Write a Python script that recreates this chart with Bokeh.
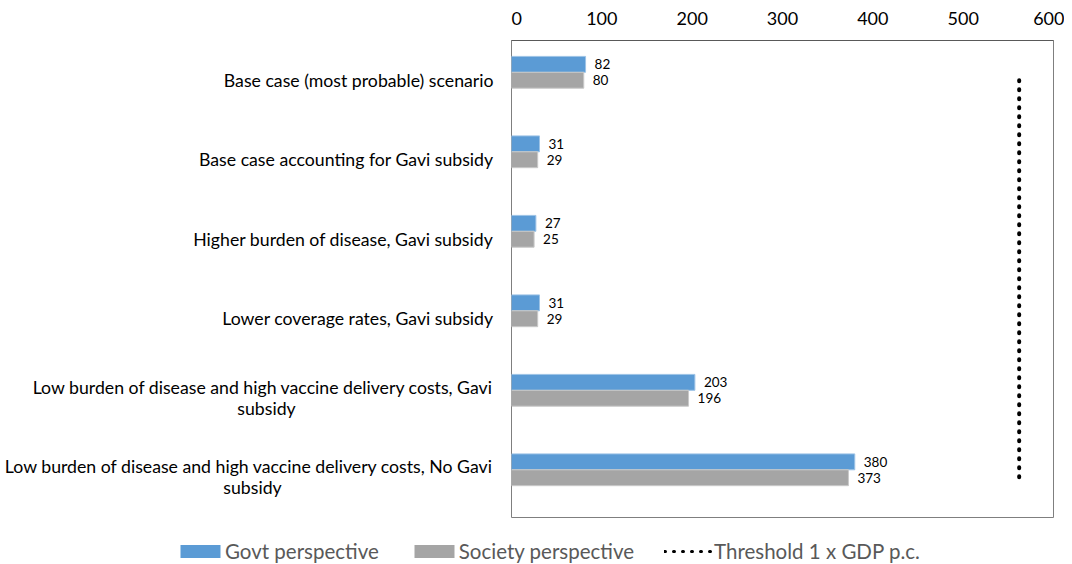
from bokeh.plotting import figure
from bokeh.layouts import row, column
from bokeh.models import (ColumnDataSource, FactorRange, Range1d, Legend,
                          LegendItem, FixedTicker)
from bokeh.transform import dodge
from bokeh.core.properties import value
from bokeh.embed import file_html
from bokeh.resources import INLINE

categories = [
    "Base case (most probable) scenario",
    "Base case accounting for Gavi subsidy",
    "Higher burden of disease, Gavi subsidy",
    "Lower coverage rates, Gavi subsidy",
    "Low burden of disease and high vaccine delivery costs, Gavi\nsubsidy",
    "Low burden of disease and high vaccine delivery costs, No Gavi\nsubsidy",
]
govt = [82, 31, 27, 31, 203, 380]
society = [80, 29, 25, 29, 196, 373]
threshold = [562, 562, 562, 562, 562, 562]
x_ticks = [0, 100, 200, 300, 400, 500, 600]

FONT = "Lato"
BLUE = "#5B9BD5"
GRAY = "#A5A5A5"

# layout constants (pixels)
W_LABEL = 511
W_MAIN = 553
H_MAIN = 524
H_LEG = 40
TOP = 40
BOTTOM = 7
LABEL_RIGHT = 493
SECOND_LINE_CENTER = {4: 266, 5: 252}

src = ColumnDataSource(dict(
    cat=categories, govt=govt, society=society, threshold=threshold,
    govt_lbl=[str(v) for v in govt], society_lbl=[str(v) for v in society],
))

yr = FactorRange(factors=categories[::-1])

# ---------------- main plot ----------------
p = figure(width=W_MAIN, height=H_MAIN, output_backend="svg", toolbar_location=None,
           x_range=Range1d(0, 600), y_range=yr, x_axis_location="above",
           y_axis_location=None,
           min_border_left=0, min_border_right=11, min_border_top=TOP,
           min_border_bottom=BOTTOM)
p.grid.visible = False
p.outline_line_color = "#7F7F7F"
p.outline_line_width = 1

r_govt = p.hbar(y=dodge("cat", 0.2, range=yr), right="govt", left=0, height=0.2,
                source=src, fill_color=BLUE, line_color="#9DC3E6", line_width=1)
r_soc = p.hbar(y=dodge("cat", 0.0, range=yr), right="society", left=0, height=0.2,
               source=src, fill_color=GRAY, line_color="#C9C9C9", line_width=1)

p.text(x="govt", y=dodge("cat", 0.2, range=yr), text="govt_lbl", source=src,
       x_offset=9, text_baseline="middle", text_align="left",
       text_font=value(FONT), text_font_size="13.5px", text_color="black")
p.text(x="society", y=dodge("cat", 0.0, range=yr), text="society_lbl", source=src,
       x_offset=9, text_baseline="middle", text_align="left",
       text_font=value(FONT), text_font_size="13.5px", text_color="black")

r_thr = p.line(x="threshold", y="cat", source=src, line_color="black", line_width=4,
               line_dash="1 8", line_cap="round")

xa = p.xaxis[0]
xa.ticker = FixedTicker(ticks=x_ticks)
xa.axis_line_color = "#595959"
xa.major_tick_out = 0
xa.major_tick_in = 0
xa.minor_tick_out = 0
xa.minor_tick_in = 0
xa.major_label_standoff = 16
xa.major_label_text_font = FONT
xa.major_label_text_font_size = "18px"
xa.major_label_text_color = "black"

# ---------------- category labels ----------------
line1, line2, line2_x = [], [], []
for i, c in enumerate(categories):
    parts = c.split("\n")
    line1.append(parts[0])
    line2.append(parts[1] if len(parts) > 1 else "")
    line2_x.append(SECOND_LINE_CENTER.get(i, LABEL_RIGHT))
one = [len(c.split("\n")) == 1 for c in categories]

lab_src1 = ColumnDataSource(dict(
    cat=[c for c, o in zip(categories, one) if o],
    txt=[t for t, o in zip(line1, one) if o],
    xr=[LABEL_RIGHT for o in one if o]))
lab_src2 = ColumnDataSource(dict(
    cat=[c for c, o in zip(categories, one) if not o],
    txt1=[t for t, o in zip(line1, one) if not o],
    txt2=[t for t, o in zip(line2, one) if not o],
    x2=[x for x, o in zip(line2_x, one) if not o],
    xr=[LABEL_RIGHT for o in one if not o]))

lf = figure(width=W_LABEL, height=H_MAIN, output_backend="svg", toolbar_location=None,
            x_range=Range1d(0, W_LABEL), y_range=yr, x_axis_location=None,
            y_axis_location=None,
            min_border_left=0, min_border_right=0, min_border_top=TOP,
            min_border_bottom=BOTTOM)
lf.grid.visible = False
lf.outline_line_color = None

common = dict(text_font=value(FONT), text_font_size="17.7px", text_color="black",
              text_baseline="middle")
lf.text(x="xr", y="cat", text="txt", source=lab_src1, text_align="right", **common)
lf.text(x="xr", y="cat", text="txt1", source=lab_src2, text_align="right", y_offset=-11, **common)
lf.text(x="x2", y="cat", text="txt2", source=lab_src2, text_align="center", y_offset=10, **common)

# ---------------- legend ----------------
lg = figure(width=W_LABEL + W_MAIN, height=H_LEG, output_backend="svg", toolbar_location=None,
            x_range=Range1d(0, 600), y_range=FactorRange(factors=categories[::-1]),
            x_axis_location=None, y_axis_location=None,
            min_border_left=0, min_border_right=0, min_border_top=0, min_border_bottom=0)
lg.grid.visible = False
lg.outline_line_color = None
lg_govt = lg.hbar(y="cat", right="govt", left=0, height=0.2, source=src,
                  fill_color=BLUE, line_color=None, visible=False)
lg_soc = lg.hbar(y="cat", right="society", left=0, height=0.2, source=src,
                 fill_color=GRAY, line_color=None, visible=False)
lg_thr = lg.line(x="threshold", y="cat", source=src, line_color="black", line_width=3,
                 line_dash="1 8", line_cap="round", visible=False)
legend = Legend(items=[
    LegendItem(label="Govt perspective", renderers=[lg_govt]),
    LegendItem(label="Society perspective", renderers=[lg_soc]),
    LegendItem(label="Threshold 1 x GDP p.c.", renderers=[lg_thr]),
], orientation="horizontal", location=(175, 1), glyph_width=50, glyph_height=16,
   label_text_font=FONT, label_text_font_size="20.5px", label_text_color="#595959",
   spacing=30, label_standoff=0, border_line_color=None, margin=0, padding=0,
   background_fill_alpha=0, inactive_fill_alpha=0)
lg.add_layout(legend)

layout = column(row(lf, p), lg)
open("out.html", "w").write(file_html(layout, INLINE))
